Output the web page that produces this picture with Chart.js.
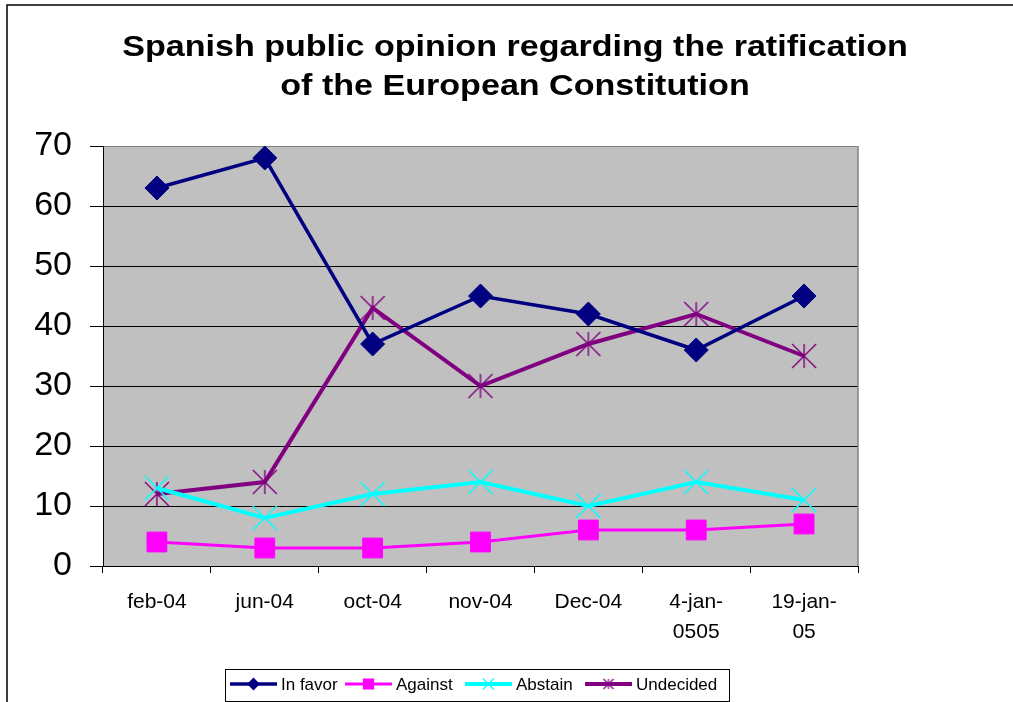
<!DOCTYPE html>
<html>
<head>
<meta charset="utf-8">
<title>Spanish public opinion</title>
<script src="https://cdn.jsdelivr.net/npm/chart.js@4"></script>
<style>
  html, body { margin: 0; padding: 0; background: #fff; }
  #wrap { width: 1013px; height: 702px; }
</style>
</head>
<body>
<div id="wrap"><canvas id="opinionChart" width="1013" height="702"></canvas></div>
<script>
// survey dates (two of them wrap onto a second line)
const dates = ['feb-04', 'jun-04', 'oct-04', 'nov-04', 'Dec-04', ['4-jan-', '0505'], ['19-jan-', '05']];

// percentages per survey
const inFavor   = [63, 68, 37, 45, 42, 36, 45];
const against   = [4, 3, 3, 4, 6, 6, 7];
const abstain   = [13, 8, 12, 14, 10, 14, 11];
const undecided = [12, 14, 43, 30, 37, 42, 35];

const yTicks = [0, 10, 20, 30, 40, 50, 60, 70];
const titleLines = ['Spanish public opinion regarding the ratification', 'of the European Constitution'];

// excel style asterisk: vertical bar plus an X
function makeAsterisk(half, color, lw) {
  const c = document.createElement('canvas');
  const s = Math.ceil(half * 2 + 4);
  c.width = s; c.height = s;
  const g = c.getContext('2d');
  const m = s / 2;
  g.strokeStyle = color;
  g.lineWidth = lw;
  g.beginPath();
  g.moveTo(m, m - half); g.lineTo(m, m + half);
  g.moveTo(m - half, m - half); g.lineTo(m + half, m + half);
  g.moveTo(m + half, m - half); g.lineTo(m - half, m + half);
  g.stroke();
  return c;
}

const starBig = makeAsterisk(12, '#800080', 1.4);
const starSmall = makeAsterisk(5, '#800080', 1.2);

const series = [
  { label: 'In favor',  data: inFavor,   color: '#000080', width: 3.5, style: 'rectRot', radius: 12, legendRadius: 5.5 },
  { label: 'Against',   data: against,   color: '#FF00FF', width: 3, style: 'rect',    radius: 14, legendRadius: 7 },
  { label: 'Abstain',   data: abstain,   color: '#00FFFF', width: 4, style: 'crossRot', radius: 17, legendRadius: 8 },
  { label: 'Undecided', data: undecided, color: '#800080', width: 4, style: starBig,   radius: 12, legendRadius: 5, legendStyle: starSmall }
];

const plotBackground = {
  id: 'plotBackground',
  beforeDraw(chart) {
    const { ctx, chartArea: a } = chart;
    ctx.save();
    ctx.fillStyle = '#fff';
    ctx.fillRect(0, 0, chart.width, chart.height);
    ctx.fillStyle = '#C0C0C0';
    ctx.fillRect(a.left, a.top, a.right - a.left, a.bottom - a.top);
    ctx.restore();
  },
  beforeDatasetsDraw(chart) {
    const { ctx, chartArea: a } = chart;
    ctx.save();
    ctx.strokeStyle = '#808080';
    ctx.lineWidth = 1.5;
    ctx.beginPath();
    ctx.moveTo(a.right, a.top);
    ctx.lineTo(a.right, a.bottom);
    ctx.stroke();
    ctx.restore();
  }
};

// title, legend box and the outer frame
const decorations = {
  id: 'decorations',
  afterDraw(chart) {
    const ctx = chart.ctx;
    ctx.save();

    // title is drawn a little wide
    ctx.fillStyle = '#000';
    ctx.font = 'bold 29px "Liberation Sans", Arial, sans-serif';
    ctx.textAlign = 'center';
    ctx.textBaseline = 'alphabetic';
    const sx = 1.175;
    ctx.save();
    ctx.scale(sx, 1);
    ctx.fillText(titleLines[0], 515 / sx, 56);
    ctx.fillText(titleLines[1], 515 / sx, 95);
    ctx.restore();

    // legend
    ctx.strokeStyle = '#000';
    ctx.lineWidth = 1;
    ctx.strokeRect(225.5, 669.5, 504, 32);
    const starts = [230, 345, 465, 585];
    const cy = 684;
    ctx.font = '17px "Liberation Sans", Arial, sans-serif';
    ctx.textAlign = 'left';
    ctx.textBaseline = 'middle';
    series.forEach((s, i) => {
      const x0 = starts[i];
      ctx.strokeStyle = s.color;
      ctx.lineWidth = s.width;
      ctx.beginPath();
      ctx.moveTo(x0, cy);
      ctx.lineTo(x0 + 47, cy);
      ctx.stroke();
      ctx.fillStyle = s.color;
      ctx.lineWidth = 1.3;
      Chart.helpers.drawPoint(ctx, {
        pointStyle: s.legendStyle || s.style,
        radius: s.legendRadius,
        borderWidth: 1.3
      }, x0 + 23.5, cy);
      ctx.fillStyle = '#000';
      ctx.fillText(s.label, x0 + 51, cy + 1);
    });

    // outer chart frame, runs off the right and bottom edges
    ctx.strokeStyle = '#000';
    ctx.lineWidth = 1.5;
    ctx.strokeRect(7, 5, 1200, 900);
    ctx.restore();
  }
};

const ctx = document.getElementById('opinionChart');
new Chart(ctx, {
  type: 'line',
  data: {
    labels: dates,
    datasets: series.map(s => ({
      label: s.label,
      data: s.data,
      borderColor: s.color,
      backgroundColor: s.color,
      borderWidth: s.width,
      pointStyle: s.style,
      pointRadius: s.radius,
      pointHoverRadius: s.radius,
      pointBorderWidth: s.style === 'crossRot' ? 1.5 : 1,
      pointBorderColor: s.color,
      pointBackgroundColor: s.color,
      tension: 0,
      fill: false
    }))
  },
  options: {
    responsive: false,
    animation: false,
    devicePixelRatio: 1,
    layout: { padding: { top: 146, right: 155, left: 0, bottom: 0 } },
    plugins: {
      legend: { display: false },
      title: { display: false },
      tooltip: { enabled: false }
    },
    scales: {
      x: {
        offset: true,
        afterFit: scale => { scale.height = 136; },
        grid: {
          offset: true,
          drawOnChartArea: false,
          drawTicks: true,
          tickLength: 7,
          color: '#000'
        },
        border: { display: true, color: '#000', width: 1 },
        ticks: {
          color: '#000',
          padding: 14,
          maxRotation: 0,
          autoSkip: false,
          font: { family: '"Liberation Sans", Arial, sans-serif', size: 21, lineHeight: 1.45 }
        }
      },
      y: {
        min: yTicks[0],
        max: yTicks[yTicks.length - 1],
        afterFit: scale => { scale.width = 103; },
        afterBuildTicks: scale => { scale.ticks = yTicks.map(v => ({ value: v })); },
        grid: {
          color: c => (c.tick && c.tick.value === 70 ? '#808080' : '#000'),
          tickColor: '#000',
          tickLength: 13,
          lineWidth: 1
        },
        border: { display: true, color: '#000', width: 1 },
        ticks: {
          color: '#000',
          padding: 18,
          font: { family: '"Liberation Sans", Arial, sans-serif', size: 34 }
        }
      }
    }
  },
  plugins: [plotBackground, decorations]
});
</script>
</body>
</html>
